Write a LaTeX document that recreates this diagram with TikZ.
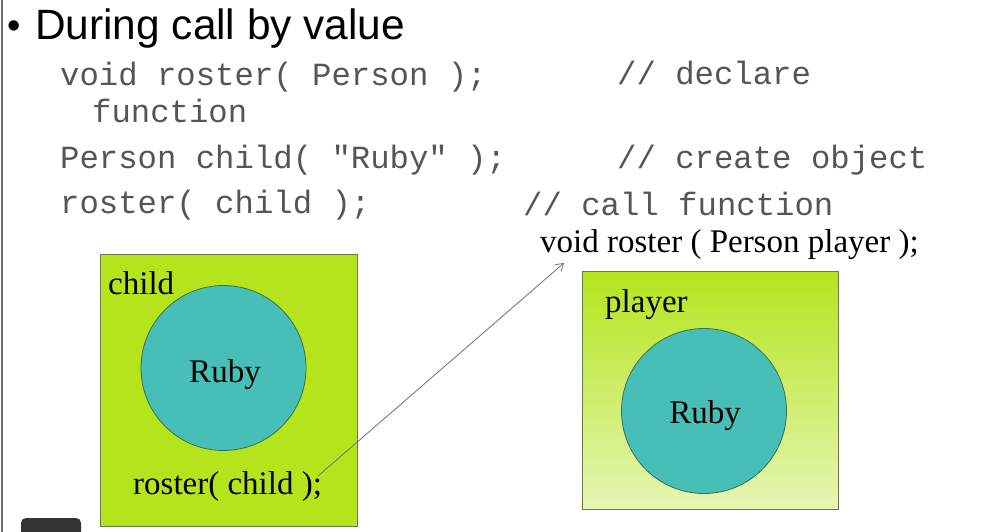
\documentclass[tikz,border=0pt]{standalone}
\usepackage{fontspec}
\setmainfont{Liberation Serif}
\setmonofont{Liberation Mono}
\newfontfamily\arialf{Liberation Sans}
\usetikzlibrary{arrows.meta}
\definecolor{boxgreen}{HTML}{B4E51C}
\definecolor{palegreen}{HTML}{E6F6B4}
\definecolor{objteal}{HTML}{47BFB6}
\definecolor{objedge}{HTML}{3C6E55}
\definecolor{boxedge}{HTML}{6A7A4A}
\definecolor{codegray}{HTML}{555555}
\definecolor{edgegray}{HTML}{707070}
\definecolor{uidark}{HTML}{333333}
\tikzset{
  codetext/.style={anchor=base west, inner sep=0pt, text=codegray, font=\ttfamily\fontsize{32.3}{38}\selectfont},
  serif/.style={inner sep=0pt, text=black, font=\rmfamily\fontsize{33}{38}\selectfont},
  varbox/.style={draw=boxedge, line width=0.8pt, anchor=north west, inner sep=0pt},
  objcircle/.style={circle, draw=objedge, line width=0.8pt, fill=objteal, minimum size=165pt, inner sep=0pt},
  callarrow/.style={draw=edgegray, line width=0.8pt, -{Straight Barb[length=7pt,width=9pt]}}
}
\begin{document}
\begin{tikzpicture}[x=1pt,y=-1pt]
\useasboundingbox (0,0) rectangle (991,532);
\fill[white] (0,0) rectangle (991,532);
\draw[edgegray, line width=2pt] (1.5,0) -- (1.5,532);
% title
\node[anchor=base west, inner sep=0pt, font=\arialf\fontsize{38}{44}\selectfont] (bullet) at (7,39) {•};
\node[anchor=base west, inner sep=0pt, font=\arialf\fontsize{42.4}{50}\selectfont] (title) at (35,40) {During call by value};
% code lines
\node[codetext] (l1) at (60,86) {void roster( Person );};
\node[codetext] (l1b) at (92,123) {function};
\node[codetext] (l2) at (60,168) {Person child( "Ruby" );};
\node[codetext] (l3) at (60,214) {roster( child );};
\node[codetext] (c1) at (617,85) {// declare};
\node[codetext] (c2) at (617,168) {// create object};
\node[codetext] (c3) at (523,215) {// call function};
% function header
\node[serif, anchor=base west] (header) at (540,252) {void roster ( Person player );};
% left box
\node[varbox, fill=boxgreen, minimum width=257pt, minimum height=272pt] (childbox) at (100,254) {};
\node[serif, anchor=base west] (childlbl) at (108,294) {child};
\node[objcircle] (childobj) at (223.5,368) {};
\node[serif, anchor=base] (ruby1) at (225,382) {Ruby};
\node[serif, anchor=base west] (callexpr) at (133,494) {roster( child );};
% right box
\shade[top color=boxgreen, bottom color=palegreen] (582,271) rectangle (838,509);
\node[varbox, minimum width=256pt, minimum height=238pt] (playerbox) at (582,271) {};
\node[serif, anchor=base west] (playerlbl) at (605,312) {player};
\node[objcircle] (playerobj) at (704,411) {};
\node[serif, anchor=base] (ruby2) at (705,423) {Ruby};
% arrow
\coordinate (from) at (318,476);
\coordinate (to) at (564,263);
\draw[callarrow] (from) -- (to);
% ui element
\fill[uidark, rounded corners=5pt] (21,518) rectangle (81,545);
\end{tikzpicture}
\end{document}
